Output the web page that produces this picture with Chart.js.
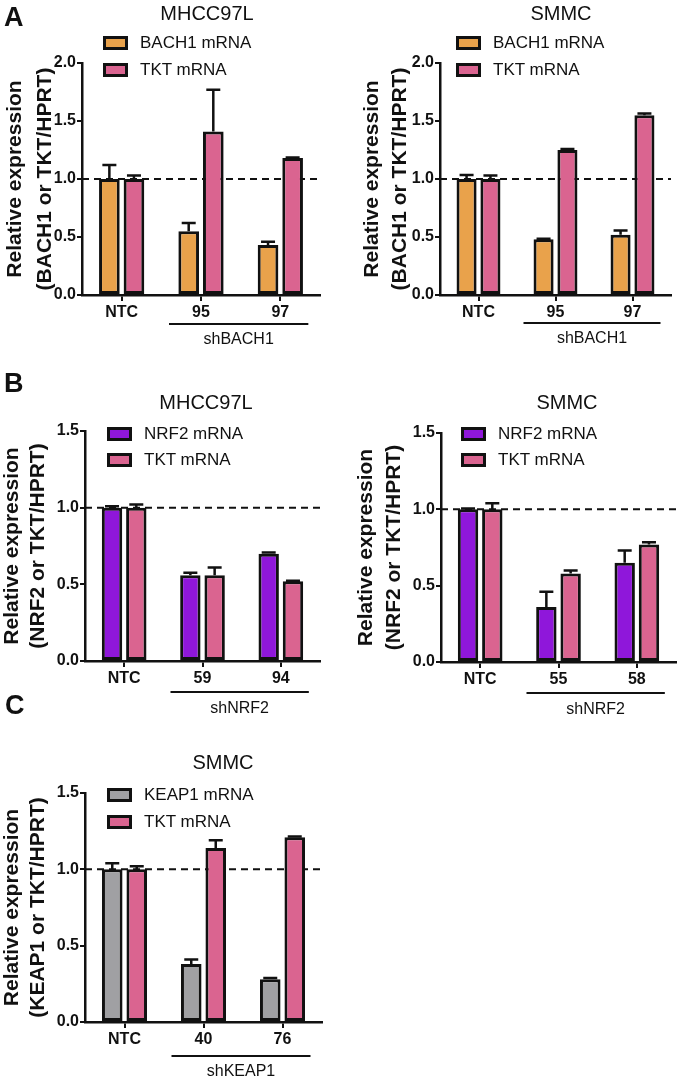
<!DOCTYPE html>
<html>
<head>
<meta charset="utf-8">
<script src="https://cdn.jsdelivr.net/npm/chart.js@4.4.1/dist/chart.umd.min.js"></script>
<style>
  html, body { margin:0; padding:0; background:#fff; }
  body { font-family:"Liberation Sans", Arial, Helvetica, sans-serif; color:#111; }
  #wrap { position:relative; width:677px; height:1079px; overflow:hidden; }
  canvas { position:absolute; }
  .letter { position:absolute; font-weight:bold; font-size:27px; line-height:27px; }
  .title { position:absolute; font-size:20px; line-height:24px; transform:translateX(-50%); white-space:nowrap; }
  .leg { position:absolute; font-size:17px; line-height:20px; height:20px; display:flex; align-items:center; white-space:nowrap; }
  .leg .box { display:inline-block; width:25px; height:14px; box-sizing:border-box; border:3px solid #111; margin-right:12px; }
</style>
</head>
<body>
<div id="wrap">
  <canvas id="a1" width="338" height="350" style="left:0;top:0"></canvas>
  <canvas id="a2" width="339" height="350" style="left:338px;top:0"></canvas>
  <canvas id="b1" width="338" height="370" style="left:0;top:350px"></canvas>
  <canvas id="b2" width="339" height="370" style="left:338px;top:350px"></canvas>
  <canvas id="c1" width="338" height="359" style="left:0;top:720px"></canvas>

  <div class="letter" style="left:4px;top:4px">A</div>
  <div class="letter" style="left:4px;top:370px">B</div>
  <div class="letter" style="left:5px;top:692px">C</div>

  <div class="title" style="left:207px;top:1px">MHCC97L</div>
  <div class="title" style="left:561px;top:1px">SMMC</div>
  <div class="title" style="left:206px;top:390px">MHCC97L</div>
  <div class="title" style="left:567px;top:390px">SMMC</div>
  <div class="title" style="left:223px;top:750px">SMMC</div>

  <div class="leg" style="left:103px;top:33px"><span class="box" style="background:#E9A24B"></span>BACH1 mRNA</div>
  <div class="leg" style="left:103px;top:60px"><span class="box" style="background:#DA6490"></span>TKT mRNA</div>
  <div class="leg" style="left:456px;top:33px"><span class="box" style="background:#E9A24B"></span>BACH1 mRNA</div>
  <div class="leg" style="left:456px;top:60px"><span class="box" style="background:#DA6490"></span>TKT mRNA</div>

  <div class="leg" style="left:107px;top:424px"><span class="box" style="background:#8F17DA"></span>NRF2 mRNA</div>
  <div class="leg" style="left:107px;top:450px"><span class="box" style="background:#DA6490"></span>TKT mRNA</div>
  <div class="leg" style="left:461px;top:424px"><span class="box" style="background:#8F17DA"></span>NRF2 mRNA</div>
  <div class="leg" style="left:461px;top:450px"><span class="box" style="background:#DA6490"></span>TKT mRNA</div>

  <div class="leg" style="left:107px;top:785px"><span class="box" style="background:#A0A0A3"></span>KEAP1 mRNA</div>
  <div class="leg" style="left:107px;top:812px"><span class="box" style="background:#DA6490"></span>TKT mRNA</div>
</div>
<script>
// panel A, MHCC97L
const aLeftCats = ['NTC', '95', '97'];
const aLeftBach1 = [1.00, 0.55, 0.43];
const aLeftBach1Err = [0.12, 0.07, 0.03];
const aLeftTkt = [1.00, 1.41, 1.18];
const aLeftTktErr = [0.03, 0.36, 0.005];

// panel A, SMMC
const aRightCats = ['NTC', '95', '97'];
const aRightBach1 = [1.00, 0.48, 0.52];
const aRightBach1Err = [0.035, 0.004, 0.035];
const aRightTkt = [1.00, 1.25, 1.55];
const aRightTktErr = [0.03, 0.008, 0.015];

// panel B, MHCC97L
const bLeftCats = ['NTC', '59', '94'];
const bLeftNrf2 = [1.00, 0.56, 0.70];
const bLeftNrf2Err = [0.01, 0.015, 0.008];
const bLeftTkt = [1.00, 0.56, 0.52];
const bLeftTktErr = [0.02, 0.05, 0.003];

// panel B, SMMC
const bRightCats = ['NTC', '55', '58'];
const bRightNrf2 = [1.00, 0.36, 0.65];
const bRightNrf2Err = [0.005, 0.10, 0.08];
const bRightTkt = [1.00, 0.58, 0.77];
const bRightTktErr = [0.04, 0.02, 0.015];

// panel C, SMMC
const cCats = ['NTC', '40', '76'];
const cKeap1 = [1.00, 0.38, 0.28];
const cKeap1Err = [0.04, 0.03, 0.008];
const cTkt = [1.00, 1.14, 1.21];
const cTktErr = [0.02, 0.05, 0.005];

const yTicksA = [0, 0.5, 1.0, 1.5, 2.0];
const yTicksBC = [0, 0.5, 1.0, 1.5];

const ORANGE = '#E9A24B', PINK = '#DA6490', PURPLE = '#8F17DA', GREY = '#A0A0A3';
const INK = '#111';

Chart.defaults.font.family = '"Liberation Sans", Arial, Helvetica, sans-serif';
Chart.defaults.color = INK;

// dashed reference line, error bars, group bracket
const extras = {
  id: 'extras',
  beforeDatasetsDraw(chart){
    const {ctx, chartArea} = chart;
    const py = chart.scales.y.getPixelForValue(1);
    ctx.save();
    ctx.setLineDash([7, 5]);
    ctx.lineWidth = 2;
    ctx.strokeStyle = INK;
    ctx.beginPath();
    ctx.moveTo(chartArea.left, py);
    ctx.lineTo(chartArea.right, py);
    ctx.stroke();
    ctx.restore();
  },
  afterDatasetsDraw(chart){
    const {ctx} = chart;
    const y = chart.scales.y;
    ctx.save();
    ctx.strokeStyle = INK;
    ctx.lineWidth = 2.5;
    chart.data.datasets.forEach((ds, di) => {
      const meta = chart.getDatasetMeta(di);
      meta.data.forEach((bar, i) => {
        const top = y.getPixelForValue(ds.data[i] + ds.errors[i]);
        ctx.beginPath();
        ctx.moveTo(bar.x, bar.y);
        ctx.lineTo(bar.x, top);
        ctx.moveTo(bar.x - 7, top);
        ctx.lineTo(bar.x + 7, top);
        ctx.stroke();
      });
    });
    ctx.restore();
  },
  afterDraw(chart, args, opts){
    if(!opts.group) return;
    const {ctx, chartArea} = chart;
    const x = chart.scales.x;
    const x1 = x.getPixelForValue(1) - 32;
    const x2 = x.getPixelForValue(2) + 28;
    const ly = chartArea.bottom + opts.lineOff;
    ctx.save();
    ctx.strokeStyle = INK;
    ctx.lineWidth = 2;
    ctx.beginPath();
    ctx.moveTo(x1, ly);
    ctx.lineTo(x2, ly);
    ctx.stroke();
    ctx.fillStyle = INK;
    ctx.font = '16px "Liberation Sans", Arial, sans-serif';
    ctx.textAlign = 'center';
    ctx.textBaseline = 'middle';
    ctx.fillText(opts.group, (x1 + x2) / 2, chartArea.bottom + opts.textOff);
    ctx.restore();
  }
};

function makeChart(id, cfg){
  const ds = (label, data, errors, color) => ({
    label, data, errors,
    backgroundColor: color,
    borderColor: INK,
    borderWidth: 3,
    borderSkipped: false,
    categoryPercentage: 0.62,
    barPercentage: 0.84
  });
  return new Chart(document.getElementById(id), {
    type: 'bar',
    data: {
      labels: cfg.cats,
      datasets: [
        ds(cfg.gene + ' mRNA', cfg.gene1, cfg.gene1Err, cfg.color),
        ds('TKT mRNA', cfg.tkt, cfg.tktErr, PINK)
      ]
    },
    options: {
      responsive: false,
      animation: false,
      layout: { padding: { left: 0, top: cfg.padTop, right: cfg.padRight, bottom: 0 } },
      plugins: {
        legend: { display: false },
        tooltip: { enabled: false },
        extras: { group: cfg.group, lineOff: cfg.lineOff, textOff: cfg.textOff }
      },
      scales: {
        x: {
          grid: { display: true, drawOnChartArea: false, drawTicks: true, tickLength: 6, offset: false, color: INK, lineWidth: 2 },
          border: { display: true, color: INK, width: 2.5 },
          ticks: { font: { size: 16, weight: 'bold' }, color: INK, padding: 2 },
          afterFit: s => { s.height = cfg.xHeight; }
        },
        y: {
          min: 0,
          max: cfg.yTicks[cfg.yTicks.length - 1],
          afterBuildTicks: s => { s.ticks = cfg.yTicks.map(v => ({ value: v })); },
          grid: { drawOnChartArea: false, drawTicks: true, tickLength: 5, color: INK, lineWidth: 2 },
          border: { display: true, color: INK, width: 2.5 },
          ticks: { font: { size: 16, weight: 'bold' }, color: INK, padding: 1, callback: v => Number(v).toFixed(1) },
          title: {
            display: true,
            text: ['Relative expression', '(' + cfg.gene + ' or TKT/HPRT)'],
            font: { size: 21, weight: 'bold', lineHeight: cfg.titleLH },
            color: INK,
            padding: { top: cfg.titlePad, bottom: 0 }
          },
          afterFit: s => { s.width = cfg.yWidth; }
        }
      }
    },
    plugins: [extras]
  });
}

makeChart('a1', { cats: aLeftCats, gene: 'BACH1', gene1: aLeftBach1, gene1Err: aLeftBach1Err, tkt: aLeftTkt, tktErr: aLeftTktErr,
  color: ORANGE, yTicks: yTicksA, padTop: 63, padRight: 18, xHeight: 55, yWidth: 82, titleLH: 1.43, titlePad: 0,
  group: 'shBACH1', lineOff: 29, textOff: 45 });
makeChart('a2', { cats: aRightCats, gene: 'BACH1', gene1: aRightBach1, gene1Err: aRightBach1Err, tkt: aRightTkt, tktErr: aRightTktErr,
  color: ORANGE, yTicks: yTicksA, padTop: 63, padRight: 6, xHeight: 55, yWidth: 102, titleLH: 1.33, titlePad: 20,
  group: 'shBACH1', lineOff: 28, textOff: 44 });
makeChart('b1', { cats: bLeftCats, gene: 'NRF2', gene1: bLeftNrf2, gene1Err: bLeftNrf2Err, tkt: bLeftTkt, tktErr: bLeftTktErr,
  color: PURPLE, yTicks: yTicksBC, padTop: 81, padRight: 18, xHeight: 59, yWidth: 85, titleLH: 1.2, titlePad: 0,
  group: 'shNRF2', lineOff: 31, textOff: 48 });
makeChart('b2', { cats: bRightCats, gene: 'NRF2', gene1: bRightNrf2, gene1Err: bRightNrf2Err, tkt: bRightTkt, tktErr: bRightTktErr,
  color: PURPLE, yTicks: yTicksBC, padTop: 83, padRight: 1, xHeight: 58, yWidth: 103, titleLH: 1.33, titlePad: 14,
  group: 'shNRF2', lineOff: 31, textOff: 48 });
makeChart('c1', { cats: cCats, gene: 'KEAP1', gene1: cKeap1, gene1Err: cKeap1Err, tkt: cTkt, tktErr: cTktErr,
  color: GREY, yTicks: yTicksBC, padTop: 73, padRight: 16, xHeight: 57, yWidth: 85, titleLH: 1.2, titlePad: 0,
  group: 'shKEAP1', lineOff: 34, textOff: 50 });
</script>
</body>
</html>
